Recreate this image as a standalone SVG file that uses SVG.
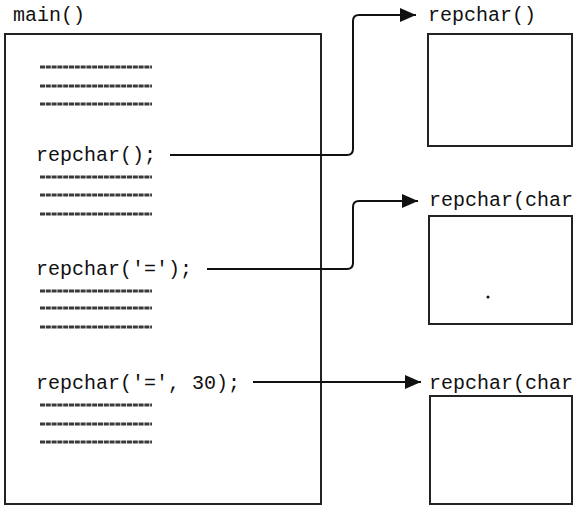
<svg xmlns="http://www.w3.org/2000/svg" width="579" height="506" viewBox="0 0 579 506">
<defs>
<style>
.t{font-family:"Liberation Mono","Courier New",monospace;font-size:20px;fill:#111}
.box{fill:#fff;stroke:#222;stroke-width:2}
.g{stroke:#3a3a3a;stroke-width:3;stroke-dasharray:5 0.8}
.c{fill:none;stroke:#111;stroke-width:2}
</style>
<marker id="ah2" markerWidth="16" markerHeight="14" refX="16" refY="7" orient="auto" markerUnits="userSpaceOnUse" viewBox="0 0 16 14">
<path d="M0,0 L16,7 L0,14 Z" fill="#111"/>
</marker>
</defs>
<rect width="579" height="506" fill="#fff"/>
<g id="main">
<text class="t" x="13" y="21">main()</text>
<rect class="box" x="5" y="34" width="316" height="470"/>
<g id="greek">
<line class="g" x1="40" y1="67" x2="152" y2="67"/>
<line class="g" x1="40" y1="86" x2="152" y2="86"/>
<line class="g" x1="40" y1="104" x2="152" y2="104"/>
<line class="g" x1="40" y1="177" x2="152" y2="177"/>
<line class="g" x1="40" y1="195" x2="152" y2="195"/>
<line class="g" x1="40" y1="214" x2="152" y2="214"/>
<line class="g" x1="40" y1="291" x2="152" y2="291"/>
<line class="g" x1="40" y1="308" x2="152" y2="308"/>
<line class="g" x1="40" y1="327" x2="152" y2="327"/>
<line class="g" x1="40" y1="405" x2="152" y2="405"/>
<line class="g" x1="40" y1="424" x2="152" y2="424"/>
<line class="g" x1="40" y1="442" x2="152" y2="442"/>
</g>
<text class="t" x="36" y="161">repchar();</text>
<text class="t" x="36" y="275">repchar('=');</text>
<text class="t" x="36" y="389">repchar('=', 30);</text>
</g>
<g id="f1">
<text class="t" x="428" y="21">repchar()</text>
<rect class="box" x="428" y="34" width="144" height="112"/>
</g>
<g id="f2">
<text class="t" x="429" y="206">repchar(char</text>
<rect class="box" x="429" y="216" width="143" height="108"/>
<circle cx="488" cy="297" r="1.5" fill="#111"/>
</g>
<g id="f3">
<text class="t" x="429" y="389">repchar(char</text>
<rect class="box" x="430" y="396" width="142" height="108"/>
</g>
<g id="connectors">
<path class="c" d="M170,155 H347 Q353,155 353,149 V21 Q353,15 359,15 H416" marker-end="url(#ah2)"/>
<path class="c" d="M207,269 H347 Q353,269 353,263 V207 Q353,201 359,201 H418" marker-end="url(#ah2)"/>
<path class="c" d="M253,382 H421" marker-end="url(#ah2)"/>
</g>
</svg>
